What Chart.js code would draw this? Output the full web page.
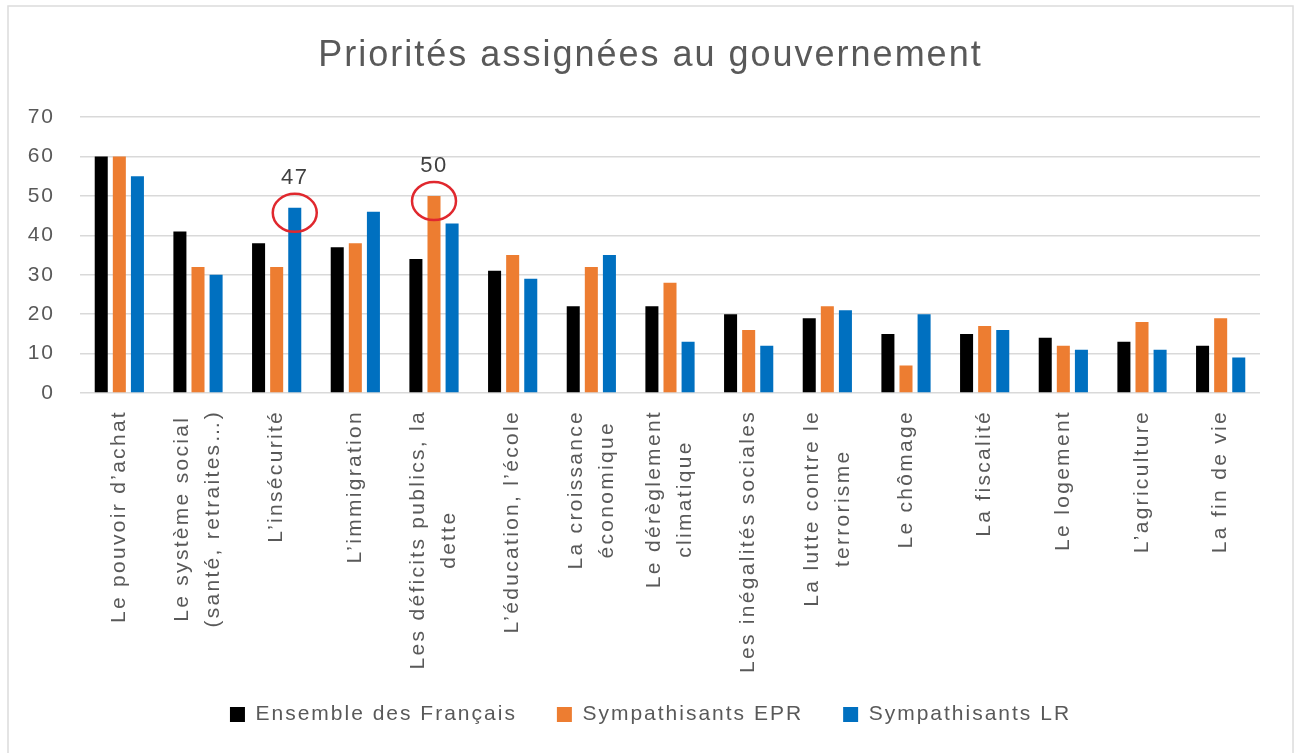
<!DOCTYPE html>
<html lang="fr">
<head>
<meta charset="utf-8">
<title>Priorités assignées au gouvernement</title>
<script src="https://cdn.jsdelivr.net/npm/chart.js@4.4.1/dist/chart.umd.min.js"></script>
<style>
  html, body { margin: 0; padding: 0; background: #fff; }
  #wrap { position: relative; width: 1299px; height: 753px; }
</style>
</head>
<body>
<div id="wrap"><canvas id="chart"></canvas></div>
<script>
// ---------- Données ----------
const categories = [
  "Le pouvoir d’achat",
  ["Le système social", "(santé, retraites…)"],
  "L’insécurité",
  "L’immigration",
  ["Les déficits publics, la", "dette"],
  "L’éducation, l’école",
  ["La croissance", "économique"],
  ["Le dérèglement", "climatique"],
  "Les inégalités sociales",
  ["La lutte contre le", "terrorisme"],
  "Le chômage",
  "La fiscalité",
  "Le logement",
  "L’agriculture",
  "La fin de vie",
];
const seriesNames = ["Ensemble des Français", "Sympathisants EPR", "Sympathisants LR"];
const ensembleFrancais = [60, 41, 38, 37, 34, 31, 22, 22, 20, 19, 15, 15, 14, 13, 12];
const sympathisantsEPR = [60, 32, 32, 38, 50, 35, 32, 28, 16, 22, 7, 17, 12, 18, 19];
const sympathisantsLR = [55, 30, 47, 46, 43, 29, 35, 13, 12, 21, 20, 16, 11, 11, 9];
const yTicks = [0, 10, 20, 30, 40, 50, 60, 70];
// valeurs entourées en rouge : [série, catégorie]
const highlights = [[2, 2], [1, 4]];

const TEXT = "#595959";
const FONT = "'Liberation Sans', Arial, sans-serif";
const PLOT_BOTTOM = 393;

Chart.defaults.font.family = FONT;

// ---------- Cadre, libellés verticaux et cercles rouges ----------
const pagePlugin = {
  id: "page",
  beforeLayout(chart) {
    chart.ctx.letterSpacing = "2px";
  },
  beforeDraw(chart) {
    const ctx = chart.ctx;
    ctx.save();
    ctx.fillStyle = "#fff";
    ctx.fillRect(0, 0, chart.width, chart.height);
    ctx.strokeStyle = "#dcdcdc";
    ctx.lineWidth = 1.5;
    ctx.strokeRect(8, 6, chart.width - 14, chart.height + 10);
    ctx.restore();
    ctx.letterSpacing = "2px";
  },
  afterDraw(chart) {
    const ctx = chart.ctx;
    const xs = chart.scales.x;

    ctx.save();
    ctx.font = `21px ${FONT}`;
    ctx.letterSpacing = "2.3px";
    ctx.fillStyle = TEXT;
    ctx.textAlign = "right";
    ctx.textBaseline = "middle";
    chart.data.labels.forEach((label, i) => {
      const lines = Array.isArray(label) ? label : [label];
      const widths = lines.map(l => ctx.measureText(l).width);
      const longest = Math.max(...widths);
      ctx.save();
      ctx.translate(xs.getPixelForValue(i), xs.top + 17);
      ctx.rotate(-Math.PI / 2);
      lines.forEach((line, j) => {
        ctx.fillText(line, -(longest - widths[j]) / 2, (j - (lines.length - 1) / 2) * 31);
      });
      ctx.restore();
    });

    ctx.letterSpacing = "1.5px";
    ctx.font = `22px ${FONT}`;
    ctx.fillStyle = "#404040";
    ctx.textAlign = "center";
    highlights.forEach(([ds, idx]) => {
      const bar = chart.getDatasetMeta(ds).data[idx];
      ctx.strokeStyle = "#E0282E";
      ctx.lineWidth = 2.5;
      ctx.beginPath();
      ctx.ellipse(bar.x, bar.y + 5, 22, 19, 0, 0, Math.PI * 2);
      ctx.stroke();
      ctx.fillText(String(chart.data.datasets[ds].data[idx]), bar.x, bar.y - 30);
    });
    ctx.restore();
  },
};

new Chart(document.getElementById("chart"), {
  type: "bar",
  data: {
    labels: categories,
    datasets: [
      { label: seriesNames[0], data: ensembleFrancais, backgroundColor: "#000000" },
      { label: seriesNames[1], data: sympathisantsEPR, backgroundColor: "#ED7D31" },
      { label: seriesNames[2], data: sympathisantsLR, backgroundColor: "#0070C0" },
    ],
  },
  options: {
    responsive: true,
    maintainAspectRatio: false,
    animation: false,
    datasets: { bar: { categoryPercentage: 0.69, barPercentage: 0.72 } },
    layout: { padding: { top: 10, left: 20, right: 18, bottom: 18 } },
    scales: {
      x: {
        grid: { display: false },
        border: { display: false },
        ticks: { display: false },
        afterFit: (s) => { s.height = s.chart.height - 18 - s.chart.legend.height - PLOT_BOTTOM; },
      },
      y: {
        min: 0,
        max: 70,
        afterBuildTicks: (s) => { s.ticks = yTicks.map(v => ({ value: v })); },
        grid: { color: "#d9d9d9", lineWidth: 1.5, drawTicks: false },
        border: { display: false },
        ticks: { color: TEXT, font: { size: 21 }, padding: 25 },
        afterFit: (s) => { s.width = 60; },
      },
      // axe vide à droite : garde la zone du graphique à 1260 px et le titre centré
      yRight: {
        position: "right",
        grid: { display: false },
        border: { display: false },
        ticks: { display: false },
        afterFit: (s) => { s.width = 21; },
      },
    },
    plugins: {
      title: {
        display: true,
        text: "Priorités assignées au gouvernement",
        color: TEXT,
        font: { size: 36, weight: "normal" },
        padding: { top: 24, bottom: 40 },
      },
      legend: {
        position: "bottom",
        labels: { color: TEXT, font: { size: 21 }, boxWidth: 15, boxHeight: 15, padding: 40 },
      },
      tooltip: { enabled: false },
    },
  },
  plugins: [pagePlugin],
});
</script>
</body>
</html>
